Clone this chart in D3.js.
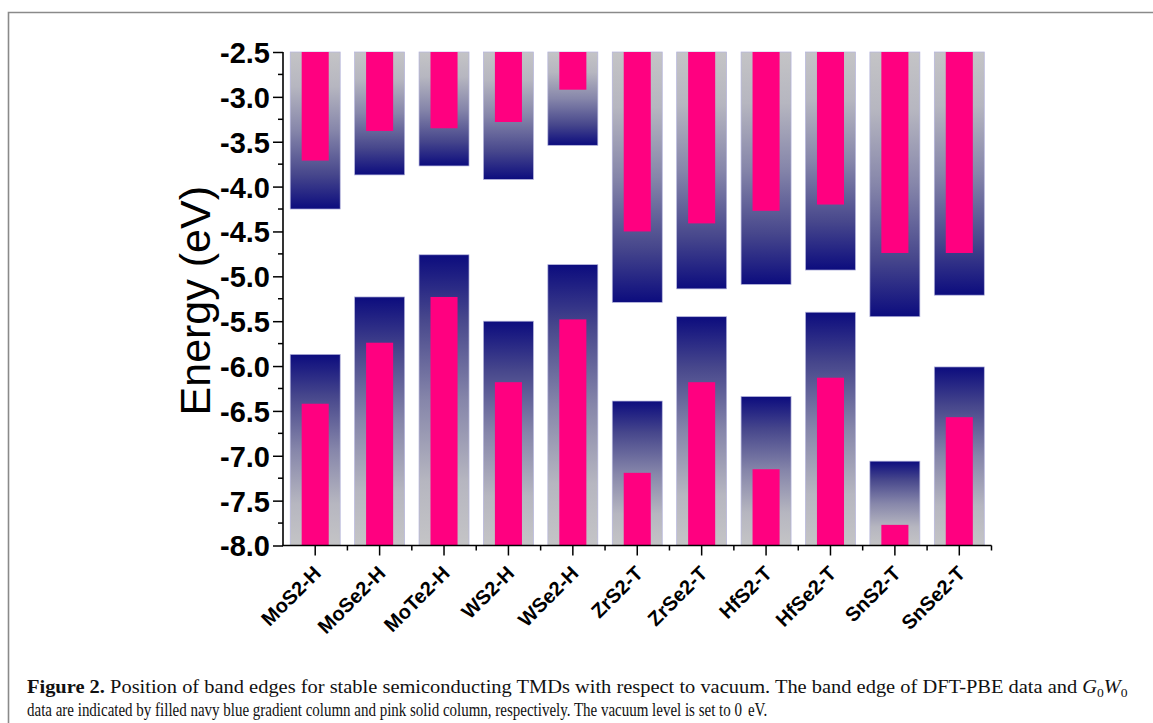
<!DOCTYPE html>
<html>
<head>
<meta charset="utf-8">
<script src="https://cdn.jsdelivr.net/npm/d3@7"></script>
<style>
  html, body { margin: 0; padding: 0; background: #fff; }
  svg { display: block; }
</style>
</head>
<body>
<svg id="chart" width="1153" height="723"></svg>
<script>
// Band-edge data (eV, relative to vacuum)
const materials = ["MoS2-H", "MoSe2-H", "MoTe2-H", "WS2-H", "WSe2-H", "ZrS2-T", "ZrSe2-T", "HfS2-T", "HfSe2-T", "SnS2-T", "SnSe2-T"];
// DFT-PBE conduction band minimum / valence band maximum
const pbeCBM = [-4.25, -3.87, -3.77, -3.92, -3.54, -5.29, -5.14, -5.09, -4.93, -5.45, -5.21];
const pbeVBM = [-5.87, -5.23, -4.76, -5.50, -4.87, -6.39, -5.45, -6.34, -5.40, -7.06, -6.01];
// G0W0 conduction band minimum / valence band maximum
const gwCBM = [-3.71, -3.38, -3.35, -3.28, -2.92, -4.50, -4.41, -4.27, -4.20, -4.74, -4.74];
const gwVBM = [-6.42, -5.74, -5.23, -6.18, -5.48, -7.19, -6.18, -7.15, -6.13, -7.77, -6.57];
// Energy axis
const yTicks = [-2.5, -3.0, -3.5, -4.0, -4.5, -5.0, -5.5, -6.0, -6.5, -7.0, -7.5, -8.0];
const yDomain = [-2.5, -8.0];

const svg = d3.select("#chart");

// figure frame (left and top edges)
svg.append("path")
  .attr("d", "M8.5,723 L8.5,12.5 L1153,12.5")
  .attr("fill", "none").attr("stroke", "#8a8a8a").attr("stroke-width", 1.6);

const x0 = 283, x1 = 991.5, yTop = 52, yBot = 545.5;
const x = d3.scaleBand().domain(materials).range([x0, x1]).padding(0);
const y = d3.scaleLinear().domain(yDomain).range([yTop, yBot]);

// column gradients: conduction gray (top) -> navy (band edge); valence navy (band edge) -> gray (bottom)
const defs = svg.append("defs");
const gc = defs.append("linearGradient").attr("id", "gCond")
  .attr("x1", 0).attr("y1", 0).attr("x2", 0).attr("y2", 1);
const gv = defs.append("linearGradient").attr("id", "gVal")
  .attr("x1", 0).attr("y1", 1).attr("x2", 0).attr("y2", 0);
const gStops = [[0, "#c4c4c6"], [0.22, "#b6b6c0"], [0.5, "#8686aa"], [0.78, "#47478c"], [1, "#0c0c7e"]];
[gc, gv].forEach(g => gStops.forEach(([o, c]) =>
  g.append("stop").attr("offset", o).attr("stop-color", c)));

const bw = x.bandwidth();
const grayW = bw * 0.776;
const pinkW = bw * 0.42;
const pink = "#ff0080";

const idx = materials.map((m, i) => i);
const plot = svg.append("g");

// DFT-PBE conduction columns
plot.selectAll("rect.pc").data(idx).enter().append("rect")
  .attr("class", "pc")
  .attr("x", i => x(materials[i]) + (bw - grayW) / 2)
  .attr("y", y(yDomain[0]))
  .attr("width", grayW)
  .attr("height", i => y(pbeCBM[i]) - y(yDomain[0]))
  .attr("fill", "url(#gCond)")
  .attr("stroke", "#b4b4dc").attr("stroke-width", 0.7);

// DFT-PBE valence columns
plot.selectAll("rect.pv").data(idx).enter().append("rect")
  .attr("class", "pv")
  .attr("x", i => x(materials[i]) + (bw - grayW) / 2)
  .attr("y", i => y(pbeVBM[i]))
  .attr("width", grayW)
  .attr("height", i => y(yDomain[1]) - y(pbeVBM[i]))
  .attr("fill", "url(#gVal)")
  .attr("stroke", "#b4b4dc").attr("stroke-width", 0.7);

// G0W0 conduction columns
plot.selectAll("rect.gc").data(idx).enter().append("rect")
  .attr("class", "gc")
  .attr("x", i => x(materials[i]) + (bw - pinkW) / 2)
  .attr("y", y(yDomain[0]))
  .attr("width", pinkW)
  .attr("height", i => y(gwCBM[i]) - y(yDomain[0]))
  .attr("fill", pink);

// G0W0 valence columns
plot.selectAll("rect.gv").data(idx).enter().append("rect")
  .attr("class", "gv")
  .attr("x", i => x(materials[i]) + (bw - pinkW) / 2)
  .attr("y", i => y(gwVBM[i]))
  .attr("width", pinkW)
  .attr("height", i => y(yDomain[1]) - y(gwVBM[i]))
  .attr("fill", pink);

// Y axis
const yAxis = d3.axisLeft(y).tickValues(yTicks).tickFormat(d3.format(".1f")).tickSize(10).tickPadding(3);
const gy = svg.append("g").attr("transform", `translate(${x0},0)`).call(yAxis);
gy.select(".domain").attr("stroke", "#000").attr("stroke-width", 1.6).attr("d", `M0,${yTop}V${yBot}`);
gy.selectAll(".tick line").attr("stroke", "#000").attr("stroke-width", 1.5);
gy.selectAll(".tick text")
  .text(d => d3.format(".1f")(d).replace("\u2212", "-"))
  .attr("font-family", "Liberation Sans, Arial, sans-serif")
  .attr("font-weight", "bold").attr("font-size", 29).attr("fill", "#000")
  .attr("dy", "0.36em");
// minor ticks on energy axis
const yMinor = d3.range(0, yTicks.length - 1).map(i => (yTicks[i] + yTicks[i + 1]) / 2);
gy.selectAll("line.minor").data(yMinor).enter().append("line")
  .attr("class", "minor").attr("x1", -5).attr("x2", 0)
  .attr("y1", d => y(d)).attr("y2", d => y(d))
  .attr("stroke", "#000").attr("stroke-width", 1.5);

// X axis
const xAxis = d3.axisBottom(x).tickSize(10).tickSizeOuter(0).tickFormat("");
const gx = svg.append("g").attr("transform", `translate(0,${yBot})`).call(xAxis);
gx.select(".domain").attr("stroke", "#000").attr("stroke-width", 1.6).attr("d", `M${x0 - 0.8},0H${x1}`);
gx.selectAll(".tick line").attr("stroke", "#000").attr("stroke-width", 1.5);
// minor ticks at category boundaries
const bounds = materials.map(m => x(m) + bw);
gx.selectAll("line.minor").data(bounds).enter().append("line")
  .attr("class", "minor").attr("y1", 0).attr("y2", 5)
  .attr("x1", d => d).attr("x2", d => d)
  .attr("stroke", "#000").attr("stroke-width", 1.5);
// rotated category labels
svg.append("g").selectAll("text").data(materials).enter().append("text")
  .attr("transform", d => `translate(${x(d) + bw / 2 + 7},${yBot + 29}) rotate(-45)`)
  .attr("text-anchor", "end")
  .attr("font-family", "Liberation Sans, Arial, sans-serif")
  .attr("font-weight", "bold").attr("font-size", 20).attr("fill", "#000")
  .text(d => d);

// Y axis title
svg.append("text")
  .attr("transform", `translate(210,${(yTop + yBot) / 2 + 2}) rotate(-90)`)
  .attr("text-anchor", "middle")
  .attr("font-family", "Liberation Sans, Arial, sans-serif")
  .attr("font-size", 43).attr("fill", "#000")
  .text("Energy (eV)");

// Caption: two lines of condensed serif, each fitted to its measured width
const cap = svg.append("g").attr("font-family", "Liberation Serif, 'DejaVu Serif', serif")
  .attr("font-size", 19.5).attr("fill", "#111");
function fitLine(t, left, baseline, width) {
  const w = t.node().getComputedTextLength();
  t.attr("transform", `translate(${left},${baseline}) scale(${width / w},1)`);
}
const l1 = cap.append("text");
l1.append("tspan").attr("font-weight", "bold").text("Figure 2.");
l1.append("tspan").text(" Position of band edges for stable semiconducting TMDs with respect to vacuum. The band edge of DFT-PBE data and ");
l1.append("tspan").attr("font-style", "italic").text("G");
l1.append("tspan").attr("font-size", 13).attr("dy", 4).text("0");
l1.append("tspan").attr("font-style", "italic").attr("dy", -4).text("W");
l1.append("tspan").attr("font-size", 13).attr("dy", 4).text("0");
fitLine(l1, 27, 693, 1101);
const l2 = cap.append("text")
  .text("data are indicated by filled navy blue gradient column and pink solid column, respectively. The vacuum level is set to 0\u2009\u2009eV.");
fitLine(l2, 27, 716, 741);
</script>
</body>
</html>
